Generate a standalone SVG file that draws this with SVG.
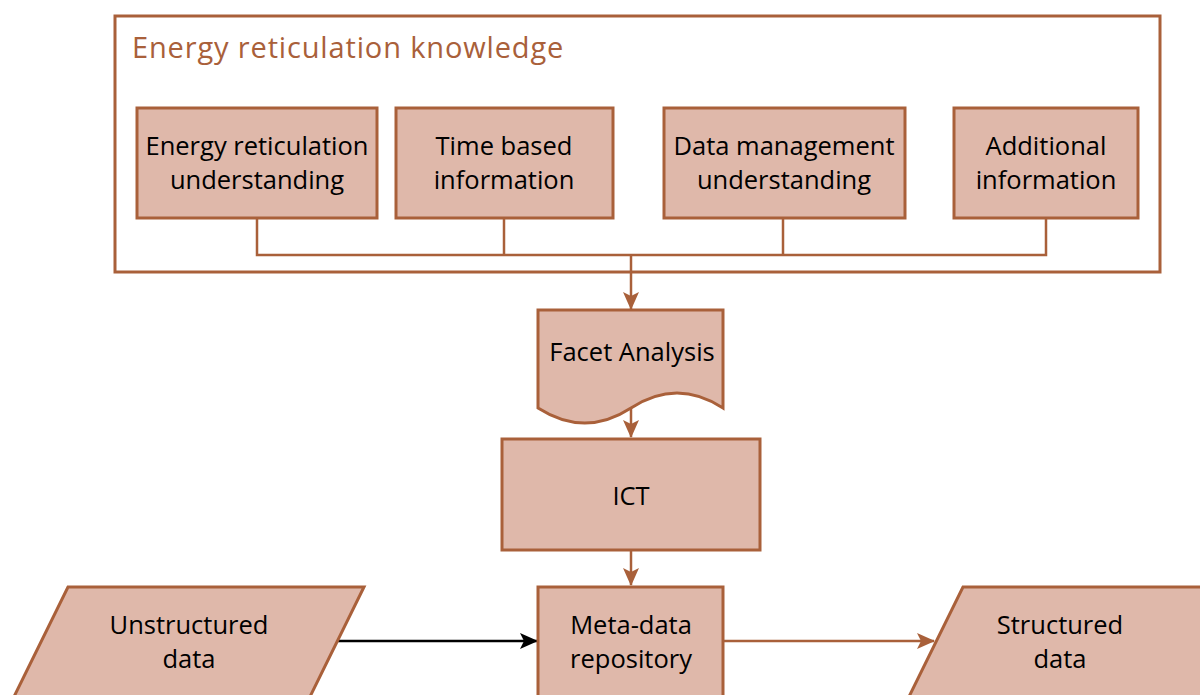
<svg xmlns="http://www.w3.org/2000/svg" width="1200" height="695" viewBox="0 0 1200 695">
<style>
.node{fill:#DFB8AA;stroke:#A9603A;stroke-width:3}
.lbl{font-family:"Open Sans","Liberation Sans",sans-serif;font-size:25.5px;fill:#000;text-anchor:middle}
.title{font-family:"Open Sans","Liberation Sans",sans-serif;font-size:29px;letter-spacing:0.85px;fill:#A9603A}
.conn{fill:none;stroke:#A9603A;stroke-width:2.5}
.connk{fill:none;stroke:#000;stroke-width:2.5}
</style>
<defs>
<marker id="arr" viewBox="0 0 18 16" refX="17" refY="8" markerWidth="18" markerHeight="16" markerUnits="userSpaceOnUse" orient="auto">
<path d="M0,0 L18,8 L0,16 L4,8 Z" fill="#A9603A"/>
</marker>
<marker id="arrk" viewBox="0 0 18 16" refX="17" refY="8" markerWidth="18" markerHeight="16" markerUnits="userSpaceOnUse" orient="auto">
<path d="M0,0 L18,8 L0,16 L4,8 Z" fill="#000"/>
</marker>
</defs>
<rect width="1200" height="695" fill="#fff"/>
<g id="container">
<rect x="115" y="16" width="1045" height="256" fill="#fff" stroke="#A9603A" stroke-width="3"/>
<text class="title" x="132" y="58">Energy reticulation knowledge</text>
</g>
<g id="connectors">
<path class="conn" d="M257,218 V255 H1046 V218"/>
<path class="conn" d="M504,218 V255"/>
<path class="conn" d="M783,218 V255"/>
<path class="conn" d="M631,255 V309" marker-end="url(#arr)"/>
<path class="conn" d="M631,408 V437" marker-end="url(#arr)"/>
<path class="conn" d="M631,550 V585" marker-end="url(#arr)"/>
<path class="connk" d="M337,641 H537" marker-end="url(#arrk)"/>
<path class="conn" d="M723,641 H934" marker-end="url(#arr)"/>
</g>
<g id="n1">
<rect class="node" x="137" y="108" width="240" height="110"/>
<text class="lbl" x="257" y="155">Energy reticulation</text>
<text class="lbl" x="257" y="189">understanding</text>
</g>
<g id="n2">
<rect class="node" x="396" y="108" width="217" height="110"/>
<text class="lbl" x="504" y="155">Time based</text>
<text class="lbl" x="504" y="189">information</text>
</g>
<g id="n3">
<rect class="node" x="664" y="108" width="241" height="110"/>
<text class="lbl" x="784" y="155">Data management</text>
<text class="lbl" x="784" y="189">understanding</text>
</g>
<g id="n4">
<rect class="node" x="954" y="108" width="184" height="110"/>
<text class="lbl" x="1046" y="155">Additional</text>
<text class="lbl" x="1046" y="189">information</text>
</g>
<g id="facet">
<path class="node" d="M538,310 H723 V408 Q677,378 631,408 T538,408 Z"/>
<text class="lbl" x="632" y="361">Facet Analysis</text>
</g>
<g id="ict">
<rect class="node" x="502" y="439" width="258" height="111"/>
<text class="lbl" x="631" y="505">ICT</text>
</g>
<g id="meta">
<rect class="node" x="538" y="587" width="185" height="130"/>
<text class="lbl" x="631" y="634">Meta-data</text>
<text class="lbl" x="631" y="668">repository</text>
</g>
<g id="unstructured">
<path class="node" d="M68,587 H364 L300,717 H4 Z"/>
<text class="lbl" x="189" y="634">Unstructured</text>
<text class="lbl" x="189" y="668">data</text>
</g>
<g id="structured">
<path class="node" d="M963,587 H1259 L1195,717 H899 Z"/>
<text class="lbl" x="1060" y="634">Structured</text>
<text class="lbl" x="1060" y="668">data</text>
</g>
</svg>
